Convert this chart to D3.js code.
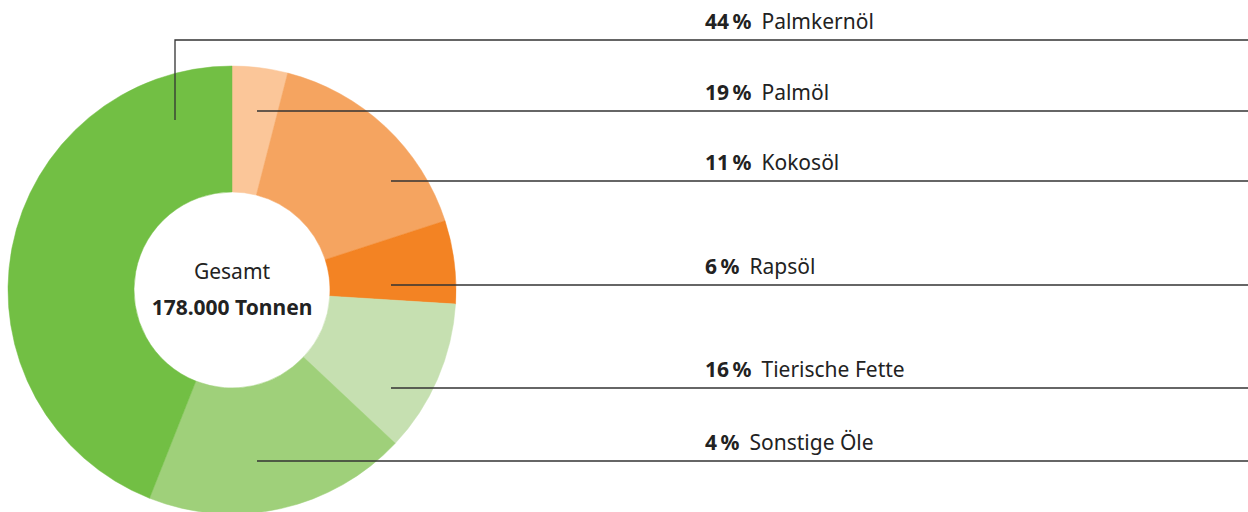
<!DOCTYPE html>
<html>
<head>
<meta charset="utf-8">
<script src="https://cdn.jsdelivr.net/npm/d3@7"></script>
<style>
  body { margin: 0; background: #fff; }
  svg text { font-family: "Noto Sans", "Open Sans", sans-serif; fill: #222; }
</style>
</head>
<body>
<div class="chart"></div>
<script>
// shares as printed next to the labels (top to bottom)
const categories = ['Palmkernöl', 'Palmöl', 'Kokosöl', 'Rapsöl', 'Tierische Fette', 'Sonstige Öle']
const shares = [44, 19, 11, 6, 16, 4]

// order of the slices, clockwise from 12 o'clock
const sliceOrder = ['Sonstige Öle', 'Tierische Fette', 'Rapsöl', 'Kokosöl', 'Palmöl', 'Palmkernöl']
const sliceColors = ['#fbc699', '#f5a460', '#f38323', '#c6e0b1', '#9fd07a', '#72bf44']

const totalLabel = 'Gesamt'
const totalValue = '178.000 Tonnen'

const width = 1248
const height = 512

const cx = 232, cy = 290
const outerR = 224, innerR = 98

// leader lines: y of the horizontal rule and where it ends inside the donut
const leaders = [
  {y: 40,  x: 175, drop: 120},
  {y: 111, x: 257},
  {y: 181, x: 391},
  {y: 285, x: 391},
  {y: 388, x: 391},
  {y: 461, x: 257}
]
const labelX = 705

const svg = d3.select('.chart')
  .append('svg')
  .attr('width', width)
  .attr('height', height)

const shareOf = {}
categories.forEach((c, i) => shareOf[c] = shares[i])

const color = d3.scaleOrdinal()
  .domain(sliceOrder)
  .range(sliceColors)

const pie = d3.pie()
  .sort(null)
  .value(d => shareOf[d])

const arc = d3.arc()
  .innerRadius(innerR)
  .outerRadius(outerR)

const donut = svg.append('g')
  .attr('transform', `translate(${cx},${cy})`)

donut.selectAll('path')
  .data(pie(sliceOrder))
  .enter()
  .append('path')
  .attr('d', arc)
  .attr('fill', d => color(d.data))
  .attr('stroke', d => color(d.data))
  .attr('stroke-width', 0.5)

donut.append('text')
  .attr('text-anchor', 'middle')
  .attr('y', -11)
  .attr('font-size', 21)
  .text(totalLabel)

donut.append('text')
  .attr('text-anchor', 'middle')
  .attr('y', 25)
  .attr('font-size', 21)
  .attr('font-weight', 'bold')
  .text(totalValue)

// leader lines
const lines = svg.append('g')
  .attr('fill', 'none')
  .attr('stroke', '#333')
  .attr('stroke-width', 1.3)

lines.selectAll('path')
  .data(leaders)
  .enter()
  .append('path')
  .attr('d', d => {
    let p = d3.path()
    if (d.drop) {
      p.moveTo(d.x, d.drop)
      p.lineTo(d.x, d.y)
    } else {
      p.moveTo(d.x, d.y)
    }
    p.lineTo(width, d.y)
    return p.toString()
  })

const labels = svg.append('g')
  .selectAll('text')
  .data(categories)
  .enter()
  .append('text')
  .attr('x', labelX)
  .attr('y', (d, i) => leaders[i].y - 11)
  .attr('font-size', 21)

labels.append('tspan')
  .attr('font-weight', 'bold')
  .text(d => shareOf[d] + '\u2009%')

labels.append('tspan')
  .attr('dx', 10)
  .text(d => d)
</script>
</body>
</html>
